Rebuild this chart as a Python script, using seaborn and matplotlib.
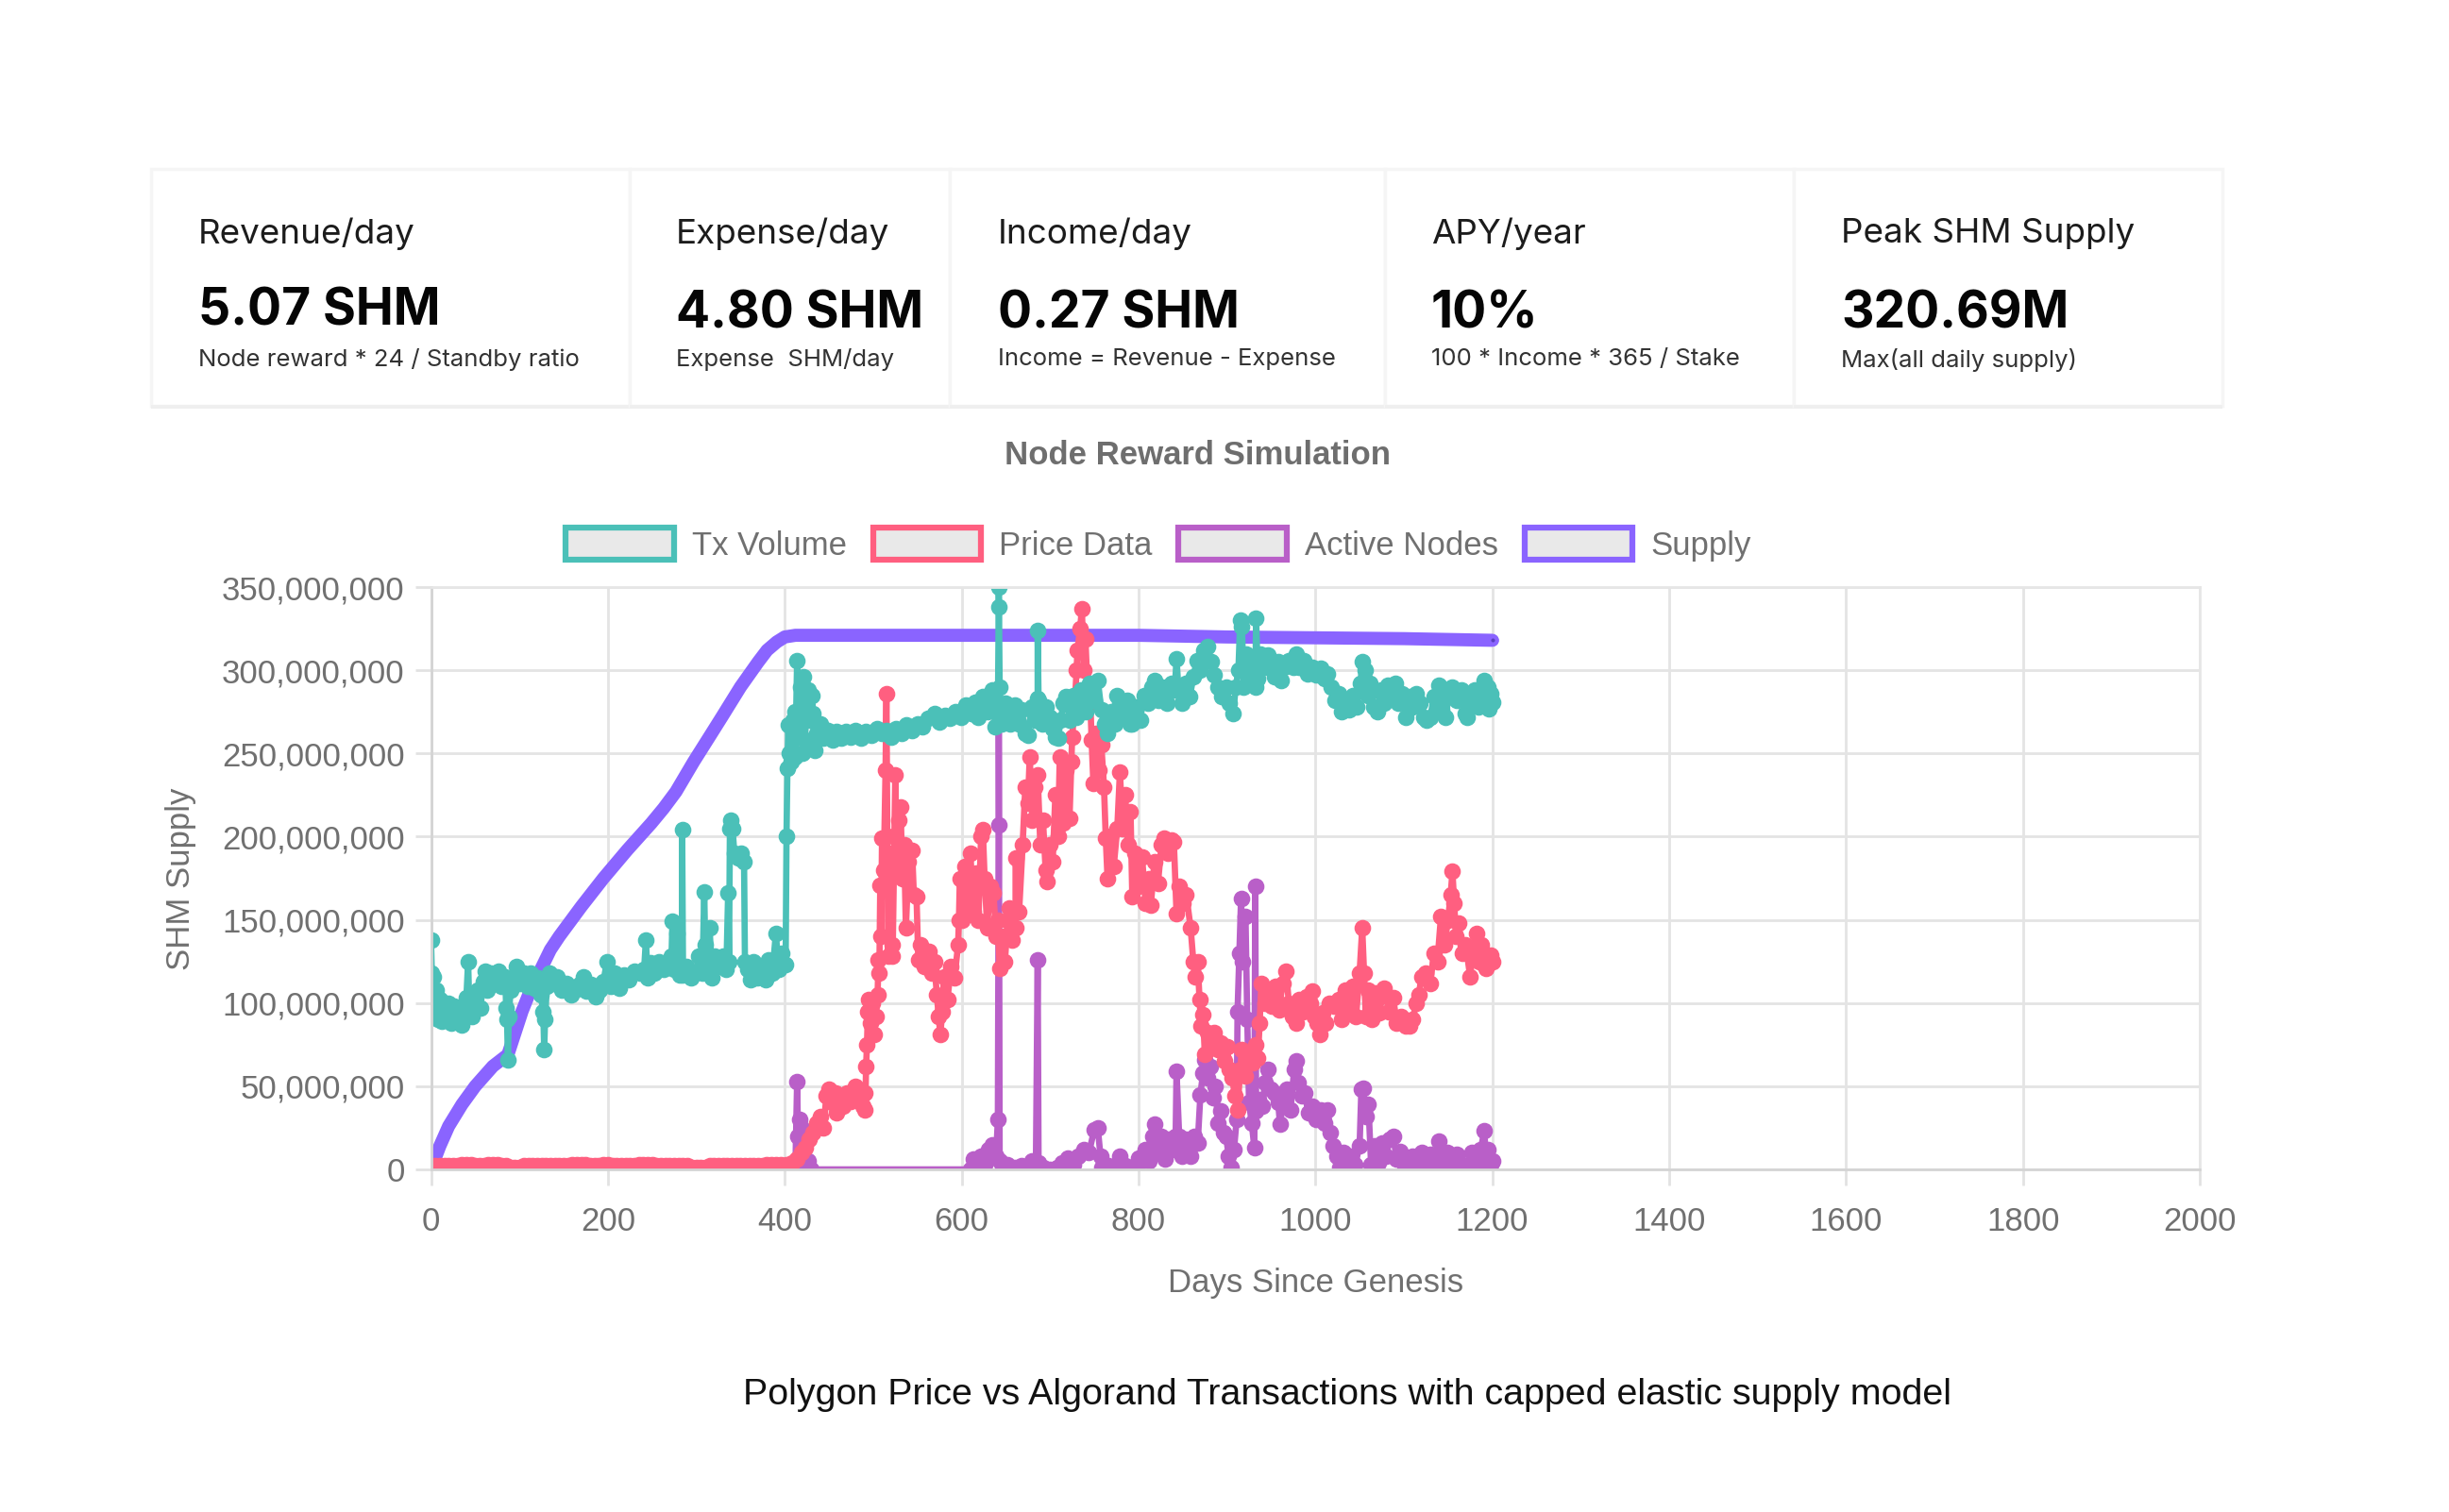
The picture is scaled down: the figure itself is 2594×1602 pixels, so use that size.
import pandas as pd
import matplotlib
matplotlib.use("Agg")
import matplotlib.pyplot as plt
from matplotlib.patches import Patch, Rectangle
from matplotlib.ticker import FuncFormatter
import seaborn as sns

W, H = 2594, 1602

# (day, millions)
tx_volume = [(0,138),(1,118),(2,96),(3,116),(5,92),(6,108),(8,90),(10,102),(12,89),(14,99),(17,90),(20,100),(23,88),(26,98),(29,91),(32,96),(35,87),(38,95),(40,103),(42,125),(43,104),(46,92),(50,99),(53,108),(56,97),(59,113),(61,119),(64,108),(68,118),(72,112),(76,119),(80,110),(84,116),(85,97),(86,90),(87,66),(88,92),(90,108),(94,116),(97,122),(101,112),(105,118),(109,110),(113,118),(117,109),(121,115),(124,105),(127,95),(128,72),(129,90),(131,110),(134,118),(138,112),(143,116),(148,108),(153,112),(158,105),(163,108),(168,111),(172,116),(176,107),(181,111),(186,104),(191,108),(195,113),(199,125),(203,110),(208,118),(213,109),(218,117),(224,114),(230,119),(236,118),(241,120),(243,138),(245,115),(248,124),(253,118),(258,125),(263,120),(268,122),(272,128),(273,149),(275,120),(278,142),(281,117),(284,120),(284,204),(285,117),(289,122),(294,115),(299,118),(303,128),(307,118),(309,167),(310,135),(312,120),(315,145),(318,115),(321,128),(325,122),(330,128),(334,120),(336,166),(337,125),(338,205),(339,210),(341,205),(343,190),(347,187),(351,190),(354,185),(355,125),(358,120),(361,114),(365,125),(369,115),(373,122),(378,114),(382,126),(386,118),(390,142),(393,120),(397,130),(401,123),(402,200),(403,241),(404,267),(405,250),(407,245),(409,270),(411,275),(412,248),(414,306),(416,262),(418,290),(420,250),(421,296),(423,258),(425,285),(427,288),(429,270),(431,285),(432,274),(434,252),(436,262),(440,268),(444,259),(449,264),(454,258),(459,263),(464,259),(469,263),(474,260),(480,264),(486,259),(492,263),(498,261),(504,265),(510,262),(515,264),(520,260),(526,265),(532,262),(538,267),(544,264),(550,268),(556,266),(562,271),(569,274),(575,269),(581,273),(587,271),(593,275),(599,272),(605,279),(611,274),(615,281),(619,272),(624,284),(629,275),(635,288),(638,266),(641,275),(642,338),(642,350),(643,290),(645,268),(650,280),(655,268),(660,279),(664,268),(668,276),(672,262),(675,261),(679,278),(683,270),(686,283),(686,324),(687,282),(691,268),(695,278),(700,272),(703,265),(706,260),(709,259),(712,270),(715,280),(718,284),(722,270),(726,285),(730,272),(735,288),(740,275),(745,292),(750,282),(754,294),(758,276),(762,268),(765,262),(769,275),(773,268),(776,285),(779,280),(783,272),(787,282),(790,268),(793,268),(797,278),(802,270),(806,285),(811,280),(815,290),(818,294),(822,282),(827,290),(832,280),(837,292),(841,288),(843,307),(845,290),(849,280),(853,292),(858,284),(862,296),(866,306),(870,300),(874,312),(878,314),(882,305),(886,297),(890,290),(894,284),(899,290),(903,280),(907,274),(910,290),(913,300),(915,330),(917,326),(919,290),(922,310),(926,296),(929,305),(932,290),(933,331),(935,295),(938,310),(942,302),(946,309),(950,304),(954,296),(958,305),(961,294),(965,302),(970,306),(975,302),(978,310),(982,302),(987,306),(991,298),(996,302),(1001,297),(1006,301),(1010,295),(1014,298),(1018,290),(1022,282),(1026,286),(1030,275),(1034,282),(1038,276),(1042,285),(1047,278),(1051,292),(1053,305),(1056,300),(1059,285),(1062,292),(1066,278),(1070,275),(1074,288),(1078,280),(1082,291),(1086,285),(1090,292),(1094,280),(1098,286),(1102,272),(1106,284),(1110,278),(1114,286),(1118,280),(1122,272),(1126,270),(1130,272),(1134,284),(1138,278),(1140,291),(1143,276),(1147,272),(1151,284),(1155,290),(1160,282),(1165,288),(1169,274),(1172,272),(1176,282),(1180,288),(1184,278),(1188,286),(1191,294),(1193,280),(1195,290),(1196,277),(1198,286),(1200,281)]

price_data = [(0,2),(5,2),(10,2),(15,2),(20,2),(25,2),(30,2),(35,3),(40,3),(45,3),(50,2),(55,2),(60,2),(65,3),(70,3),(75,3),(80,2),(85,2),(90,1),(95,1),(100,1),(105,2),(110,2),(115,2),(120,2),(125,2),(130,2),(135,2),(140,2),(145,2),(150,2),(155,2),(160,3),(165,3),(170,3),(175,3),(180,2),(185,2),(190,2),(195,3),(200,3),(205,2),(210,2),(215,2),(220,2),(225,2),(230,2),(235,3),(240,3),(245,3),(250,3),(255,2),(260,2),(265,2),(270,2),(275,2),(280,2),(285,2),(290,2),(295,1),(300,1),(305,1),(310,1),(315,2),(320,2),(325,2),(330,2),(335,2),(340,2),(345,2),(350,2),(355,2),(360,2),(365,2),(370,2),(375,2),(380,3),(385,3),(390,3),(395,3),(402,3),(408,4),(414,6),(419,10),(423,13),(428,18),(432,22),(436,28),(440,32),(444,25),(447,44),(450,48),(453,40),(457,46),(459,34),(462,44),(466,38),(470,46),(475,41),(480,50),(484,44),(488,38),(490,46),(491,36),(492,62),(493,75),(494,95),(495,102),(497,88),(499,100),(501,81),(503,92),(505,105),(506,126),(507,118),(508,171),(509,140),(510,199),(512,180),(514,240),(515,286),(516,200),(517,128),(519,190),(521,135),(522,128),(524,200),(525,237),(526,190),(527,180),(529,210),(531,218),(533,175),(535,195),(537,145),(540,185),(544,192),(546,165),(549,164),(551,126),(554,135),(558,122),(563,131),(566,118),(569,125),(572,105),(574,92),(576,81),(578,95),(580,116),(584,102),(588,122),(592,115),(596,135),(597,150),(598,175),(601,150),(604,182),(607,160),(610,190),(613,155),(616,178),(619,150),(622,200),(624,204),(626,175),(629,145),(632,170),(636,166),(639,140),(641,150),(643,121),(646,140),(649,125),(652,150),(654,157),(657,138),(661,145),(661,187),(665,155),(669,195),(672,230),(675,220),(677,248),(680,210),(683,230),(686,237),(689,195),(692,210),(695,180),(697,173),(700,195),(703,185),(706,225),(709,200),(711,248),(713,215),(715,208),(718,240),(722,211),(724,245),(725,260),(728,280),(730,300),(731,312),(734,325),(736,337),(738,300),(740,319),(743,280),(745,290),(747,258),(749,232),(752,262),(755,240),(758,255),(761,230),(763,199),(765,175),(768,200),(772,182),(776,205),(779,239),(782,205),(785,225),(788,195),(791,215),(793,164),(796,190),(800,170),(804,188),(808,160),(812,175),(814,159),(818,185),(822,172),(826,195),(829,199),(833,190),(837,198),(840,197),(843,154),(846,170),(850,160),(854,165),(859,145),(862,125),(864,116),(867,125),(869,102),(871,86),(873,93),(875,69),(878,82),(882,74),(886,82),(890,72),(893,76),(897,65),(900,74),(903,60),(906,55),(909,44),(912,36),(915,60),(917,72),(921,56),(925,70),(929,64),(933,75),(935,67),(937,88),(939,112),(943,100),(947,108),(951,98),(955,110),(959,96),(963,112),(967,119),(970,100),(974,92),(978,88),(982,102),(986,95),(990,104),(994,100),(996,107),(999,92),(1002,88),(1005,81),(1008,94),(1012,88),(1016,100),(1021,98),(1026,102),(1030,90),(1034,108),(1038,94),(1042,110),(1046,92),(1050,118),(1053,145),(1055,118),(1057,92),(1060,108),(1064,90),(1068,106),(1072,94),(1078,109),(1083,95),(1088,103),(1092,88),(1097,92),(1102,86),(1106,86),(1110,90),(1114,100),(1117,105),(1120,116),(1125,118),(1130,112),(1134,130),(1138,125),(1142,152),(1146,135),(1150,150),(1153,165),(1155,179),(1157,160),(1159,140),(1162,148),(1166,130),(1170,135),(1175,116),(1178,130),(1182,142),(1185,125),(1188,135),(1193,121),(1196,128),(1198,129),(1200,125)]

active_nodes = [(400,0),(412,0),(414,53),(415,20),(417,30),(419,25),(421,8),(424,4),(427,5),(430,0),(610,0),(613,6),(617,2),(622,8),(626,3),(630,12),(635,15),(639,8),(641,30),(642,207),(642,275),(643,5),(646,1),(652,3),(660,1),(668,2),(675,0),(680,5),(684,3),(686,126),(687,4),(692,1),(700,0),(708,1),(714,4),(720,7),(726,3),(732,8),(738,12),(744,10),(750,24),(754,25),(757,8),(759,1),(766,2),(772,1),(779,8),(785,2),(793,1),(800,7),(804,5),(808,12),(812,5),(816,20),(818,27),(822,10),(826,20),(830,6),(834,18),(838,12),(842,20),(843,59),(846,20),(849,8),(853,18),(857,10),(859,8),(863,20),(867,16),(870,45),(873,58),(875,66),(878,55),(881,62),(884,43),(887,50),(890,28),(893,35),(896,22),(899,20),(902,8),(905,1),(908,12),(911,30),(912,95),(914,130),(916,163),(918,125),(921,152),(923,90),(925,40),(928,28),(931,13),(932,170),(933,35),(936,42),(940,38),(943,52),(946,60),(950,48),(954,46),(958,40),(960,27),(964,42),(968,48),(972,36),(976,60),(978,65),(981,52),(985,44),(988,46),(992,34),(996,38),(1001,30),(1006,36),(1010,28),(1014,36),(1017,22),(1020,14),(1024,8),(1028,1),(1032,10),(1036,2),(1040,8),(1045,3),(1050,14),(1052,48),(1054,49),(1057,32),(1060,39),(1063,3),(1067,14),(1071,4),(1075,16),(1080,8),(1084,18),(1088,20),(1092,6),(1096,11),(1101,2),(1106,0),(1110,8),(1115,2),(1120,10),(1125,1),(1130,9),(1135,2),(1140,17),(1144,4),(1149,10),(1154,1),(1160,9),(1166,3),(1172,1),(1177,10),(1182,3),(1187,12),(1191,23),(1193,6),(1195,12),(1198,3),(1200,5)]

supply = [(0,0),(10,14),(20,26),(35,39),(50,50),(70,62),(87,69),(95,82),(103,95),(112,107),(124,120),(135,132),(145,140),(170,158),(195,175),(222,192),(249,208),(263,217),(277,227),(297,245),(316,261),(329,272),(350,290),(370,305),(380,312),(391,317),(400,320),(412,321),(500,321),(600,321),(700,321),(800,321),(900,320),(1000,319.5),(1100,319),(1200,318)]

series_names = ["Supply", "Active Nodes", "Price Data", "Tx Volume"]
series_values = [supply, active_nodes, price_data, tx_volume]
legend_names = ["Tx Volume", "Price Data", "Active Nodes", "Supply"]
line_colors = {"Tx Volume": "#4bc0b8", "Price Data": "#ff5f80",
               "Active Nodes": "#b95fc8", "Supply": "#8a64ff"}
dot_colors = {"Tx Volume": "#1f7f7a", "Price Data": "#c2304f", "Active Nodes": "#7d2f8c"}

x_ticks = list(range(0, 2001, 200))
y_ticks = [v * 1000000 for v in range(0, 351, 50)]

# stat cards: title, value, note
card_titles = ["Revenue/day", "Expense/day", "Income/day", "APY/year", "Peak SHM Supply"]
card_values = ["5.07 SHM", "4.80 SHM", "0.27 SHM", "10%", "320.69M"]
card_notes = ["Node reward * 24 / Standby ratio", "Expense  SHM/day",
              "Income = Revenue - Expense", "100 * Income * 365 / Stake",
              "Max(all daily supply)"]
card_edges = [160, 667, 1006, 1467, 1900, 2354]
card_text_x = [210, 716, 1057, 1516, 1950]

sns.set_theme(style="white")
plt.rcParams["font.family"] = ["Liberation Sans", "DejaVu Sans"]

fig = plt.figure(figsize=(W / 100, H / 100), dpi=100, facecolor="white")


def fx(px):
    return px / W


def fy(py):
    return 1 - py / H


ax = fig.add_axes([fx(456.5), fy(1239), fx(2330) - fx(456.5), (1239 - 622) / H])

for name, rows in zip(series_names, series_values):
    df = pd.DataFrame(rows, columns=["day", "value"])
    df["value"] = df["value"] * 1000000
    c = line_colors[name]
    if name == "Supply":
        sns.lineplot(data=df, x="day", y="value", ax=ax, color=c, linewidth=10,
                     estimator=None, sort=False, errorbar=None, legend=False)
        # dot at the last day
        ax.plot(df["day"].iloc[-1], df["value"].iloc[-1], "o", color="#5a3fc0",
                ms=6, mec=c, mew=3)
    else:
        sns.lineplot(data=df, x="day", y="value", ax=ax, color=c, linewidth=4.8,
                     marker="o", markersize=11.5, markerfacecolor=c,
                     markeredgecolor=c, markeredgewidth=1.2,
                     estimator=None, sort=False, errorbar=None, legend=False)
        sns.scatterplot(data=df, x="day", y="value", ax=ax, color=dot_colors[name],
                        s=22, alpha=0.35, linewidth=0, legend=False)

ax.set_xlim(0, 2000)
ax.set_ylim(0, 350000000)
ax.set_xticks(x_ticks)
ax.set_yticks(y_ticks)
ax.yaxis.set_major_formatter(FuncFormatter(lambda v, _: f"{int(v):,}"))
ax.grid(True, color="#e4e4e4", linewidth=2)
ax.set_axisbelow(True)
for side in ["top", "right"]:
    ax.spines[side].set_color("#e6e6e6")
    ax.spines[side].set_linewidth(2)
for side in ["left", "bottom"]:
    ax.spines[side].set_color("#d4d4d4")
    ax.spines[side].set_linewidth(2)
ax.tick_params(axis="both", labelsize=25, labelcolor="#707070", color="#e2e2e2",
               length=12, width=2, pad=8, bottom=True, left=True)
ax.tick_params(axis="x", pad=16)
ax.set_xlabel("")
ax.set_ylabel("")

fig.text(fx(1394), fy(1359), "Days Since Genesis", fontsize=25, color="#707070",
         ha="center", va="center")
fig.text(fx(192), fy(931), "SHM Supply", fontsize=25, color="#707070",
         ha="center", va="center", rotation=90)
fig.text(fx(1269), fy(482), "Node Reward Simulation", fontsize=25, color="#6e6e6e",
         fontweight="bold", ha="center", va="center")
fig.text(fx(1427), fy(1478), "Polygon Price vs Algorand Transactions with capped elastic supply model",
         fontsize=28.4, color="#111111", ha="center", va="center")

handles = [Patch(facecolor="#e9e9e9", edgecolor=line_colors[n], linewidth=4.5, label=n)
           for n in legend_names]
fig.legend(handles=handles, loc="center", bbox_to_anchor=(fx(1227), fy(577)), ncol=4,
           frameon=False, fontsize=25, labelcolor="#707070", handlelength=3.3,
           handleheight=1.1, handletextpad=0.55, columnspacing=0.8)

# cards above the chart
for left, right in zip(card_edges[:-1], card_edges[1:]):
    fig.add_artist(Rectangle((fx(left), fy(430)), fx(right - left), (430 - 179) / H,
                             transform=fig.transFigure, facecolor="white",
                             edgecolor="#f5f5f5", linewidth=2.5))
    fig.add_artist(Rectangle((fx(left), fy(433)), fx(right - left), 4 / H,
                             transform=fig.transFigure, facecolor="#efefef",
                             edgecolor="none"))

for i in range(len(card_titles)):
    tx = fx(card_text_x[i])
    fig.text(tx, fy(248), card_titles[i], fontsize=26.5, color="#1c1c1c", family="Inter",
             ha="left", va="center")
    fig.text(tx, fy(333 if i else 330), card_values[i], fontsize=38.5, color="#050505",
             family="Inter", fontweight="bold", ha="left", va="center")
    fig.text(tx, fy(381), card_notes[i], fontsize=18.5, color="#333333", family="Inter",
             ha="left", va="center")

fig.savefig("out.png", dpi=100, facecolor="white")
